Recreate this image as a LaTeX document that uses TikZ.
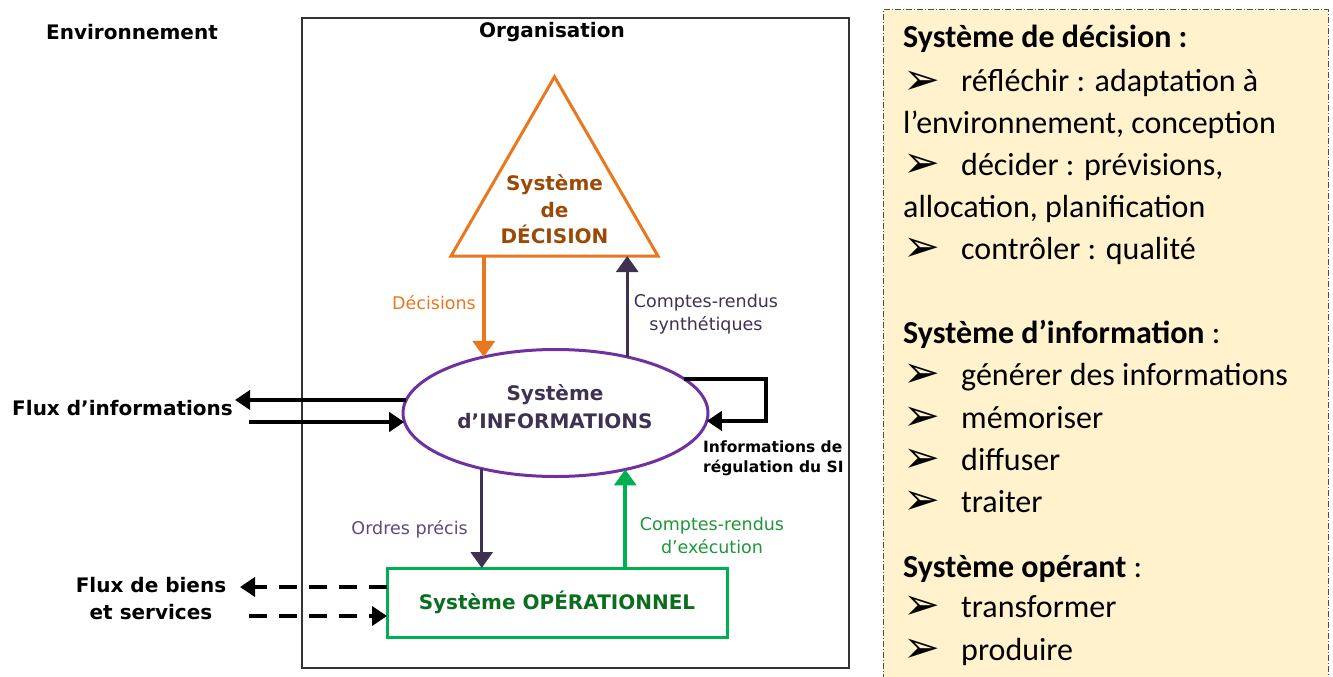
\documentclass[tikz,border=0pt]{standalone}
\usepackage{fontspec}
\setmainfont{DejaVu Sans}
\newfontfamily\calib{Carlito}
\newfontfamily\symfont{DejaVu Sans}
\usetikzlibrary{arrows.meta,calc,shapes.geometric}

\definecolor{decorange}{HTML}{E8771E}
\definecolor{decbrown}{HTML}{9A4A06}
\definecolor{infopurple}{HTML}{7030A0}
\definecolor{infodark}{HTML}{3F3151}
\definecolor{ordrepurple}{HTML}{5F497A}
\definecolor{opgreen}{HTML}{00B050}
\definecolor{opdark}{HTML}{0B6E1E}
\definecolor{crgreen}{HTML}{1E9639}
\definecolor{panelfill}{HTML}{FFF2CC}

\tikzset{
  bigbold/.style={font=\fontsize{20}{27}\selectfont\bfseries, inner sep=0, align=center},
  flowlabel/.style={font=\fontsize{17.5}{22.5}\selectfont, inner sep=0, align=center},
  vflow/.style={line width=3.5pt, -{Triangle[length=16pt,width=22pt]}},
  hflow/.style={line width=4pt, -{Triangle[length=15pt,width=19pt]}},
  goods/.style={line width=4pt, dash pattern=on 18pt off 12pt, -{Triangle[length=15pt,width=19pt]}},
  paneltext/.style={anchor=base west, inner sep=0, font=\calib\fontsize{32}{38}\selectfont},
  bullet/.style={anchor=base west, inner sep=0, font=\symfont\fontsize{44}{48}\selectfont},
}

\begin{document}
\begin{tikzpicture}[x=1pt, y=-1pt]
  \useasboundingbox (0,0) rectangle (1333,677);

  % environnement / organisation
  \node[bigbold] (env) at (132,32) {Environnement};
  \node[draw=black!80, line width=2pt, minimum width=547pt, minimum height=650pt, inner sep=0] (org) at (575.5,343) {};
  \node[bigbold] (orgtitle) at (552,32) {Organisation};

  % the three systems
  \node[regular polygon, regular polygon sides=3, minimum size=239pt, draw=decorange, line width=3pt, inner sep=0, outer sep=0] (dec) at (554.5,196.3) {};
  \node[bigbold, text=decbrown, font=\fontsize{20}{26.5}\selectfont\bfseries] (dectxt) at (554.5,209.5) {Système\\de\\DÉCISION};

  \node[ellipse, draw=infopurple, line width=3pt, minimum width=305pt, minimum height=127pt, inner sep=0, outer sep=0] (info) at (555.5,413) {};
  \node[bigbold, text=infodark, font=\fontsize{20}{28}\selectfont\bfseries] (infotxt) at (555,406.5) {Système\\d’INFORMATIONS};

  \node[draw=opgreen, line width=3pt, minimum width=340pt, minimum height=69pt, inner sep=0, outer sep=0] (oper) at (557,602.5) {};
  \node[bigbold, text=opdark] (opertxt) at (557,602) {Système OPÉRATIONNEL};

  % flows between systems
  \draw[vflow, decorange] (dec.side 2 -| info.142.4) -- (info.142.4);
  \node[flowlabel, text=decorange, anchor=east] (decis) at (476,303) {Décisions};

  \draw[vflow, infodark, line width=3pt] (info.38.1) -- (info.38.1 |- dec.side 2);
  \node[flowlabel, text=infodark] (crsynth) at (706,314) {Comptes-rendus\\synthétiques};

  \draw[vflow, infodark, line width=3pt] (info.217.6) -- (info.217.6 |- oper.north);
  \node[flowlabel, text=ordrepurple, anchor=east] (ordres) at (468,529) {Ordres précis};

  \draw[vflow, opgreen] (info.321.9 |- oper.north) -- (info.321.9);
  \node[flowlabel, text=crgreen] (crexec) at (712,535.5) {Comptes-rendus\\d’exécution};

  % regulation loop
  \draw[hflow] (info.15.2) -- ++(82,0) |- (info.-3);
  \node[bigbold, align=left, anchor=west, font=\fontsize{15.5}{20}\selectfont\bfseries] (regul) at (703,458) {Informations de\\régulation du SI};

  % exchanges with the environment
  \coordinate (fiout) at (235,402);
  \coordinate (fiin) at (249,422);
  \draw[hflow] (info.175.8) -- (info.175.8 -| fiout);
  \draw[hflow] (fiin) -- (fiin -| info.183.4);
  \node[bigbold, anchor=east] (fluxinfo) at (233,408) {Flux d’informations};

  \coordinate (fbout) at (240,587);
  \coordinate (fbin) at (249,616);
  \draw[goods] ($(oper.west)+(0,-15.5)$) -- (fbout);
  \draw[goods] (fbin) -- ($(oper.west)+(0,13.5)$);
  \node[bigbold] (fluxbiens) at (151,598.5) {Flux de biens\\et services};

  % summary panel
  \fill[panelfill] (883,10) rectangle (1328,680);
  \draw[black!70, line width=1pt, dash pattern=on 6pt off 2pt on 1pt off 2pt] (883,680) -- (883,10) -- (1328,10) -- (1328,680);

  \node[paneltext, font=\calib\fontsize{32}{38}\selectfont\bfseries] (hdec) at (903,48) {Système de décision :};
  \node[bullet] (b1) at (903,94) {➢};
  \node[paneltext] (t1) at (961,92) {réfléchir : adaptation à};
  \node[paneltext] (t1b) at (903,133) {l’environnement, conception};
  \node[bullet] (b2) at (903,177) {➢};
  \node[paneltext] (t2) at (961,175) {décider : prévisions,};
  \node[paneltext] (t2b) at (903,217) {allocation, planification};
  \node[bullet] (b3) at (903,261) {➢};
  \node[paneltext] (t3) at (961,259) {contrôler : qualité};

  \node[paneltext] (hinfo) at (903,343) {\textbf{Système d’information} :};
  \node[bullet] (b4) at (903,387) {➢};
  \node[paneltext] (t4) at (961,385) {générer des informations};
  \node[bullet] (b5) at (903,430) {➢};
  \node[paneltext] (t5) at (961,428) {mémoriser};
  \node[bullet] (b6) at (903,472) {➢};
  \node[paneltext] (t6) at (961,470) {diffuser};
  \node[bullet] (b7) at (903,514) {➢};
  \node[paneltext] (t7) at (961,512) {traiter};

  \node[paneltext] (hop) at (903,577) {\textbf{Système opérant} :};
  \node[bullet] (b8) at (903,619) {➢};
  \node[paneltext] (t8) at (961,617) {transformer};
  \node[bullet] (b9) at (903,662) {➢};
  \node[paneltext] (t9) at (961,660) {produire};
\end{tikzpicture}
\end{document}
